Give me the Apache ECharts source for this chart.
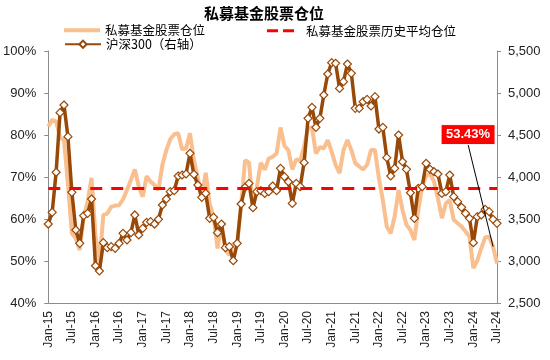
<!DOCTYPE html>
<html>
<head>
<meta charset="utf-8">
<script src="https://cdn.jsdelivr.net/npm/echarts@6/dist/echarts.min.js"></script>
<style>html,body{margin:0;padding:0;background:#fff}#c{width:550px;height:360px}</style>
</head>
<body>
<div id="c"></div>
<script>
// ---- data ----
var monthNames = ['Jan','Feb','Mar','Apr','May','Jun','Jul','Aug','Sep','Oct','Nov','Dec'];
var categories = [];
for (var y = 15; y <= 24; y++) {
  for (var m = 0; m < 12; m++) {
    if (y === 24 && m > 6) break;
    categories.push(monthNames[m] + '-' + y);
  }
}
var positionPct = [
  82.0,83.6,83.2,79.4,78.8,68.5,56.6,55.4,52.6,60.6,64.1,69.8,
  56.0,49.4,61.0,61.3,62.9,63.2,63.3,64.7,66.9,69.3,71.8,67.7,
  65.3,70.2,68.9,68.1,66.9,72.9,76.4,79.0,80.2,80.4,76.6,76.8,
  80.4,74.0,69.7,65.3,71.0,63.7,60.6,53.0,59.0,52.6,51.4,54.0,
  54.2,63.3,74.0,73.4,62.9,67.7,73.4,71.7,74.4,74.8,75.6,81.8,
  77.4,76.4,71.8,74.2,73.9,77.2,81.6,81.8,75.6,77.1,76.8,78.8,
  76.0,72.9,70.9,76.4,78.8,76.4,73.3,72.5,71.8,72.9,76.4,76.4,
  69.7,64.5,58.2,56.6,60.6,66.9,62.1,58.6,57.4,55.0,62.1,67.7,
  70.2,70.8,68.9,64.9,60.2,63.7,64.5,59.8,59.0,58.2,57.0,55.8,
  48.3,50.1,53.0,55.6,55.8,53.43,49.4
];
var csi300 = [
  3440,3579,4056,4766,4857,4480,3817,3369,3210,3540,3567,3738,
  2944,2881,3218,3159,3171,3151,3210,3329,3250,3337,3548,3310,
  3389,3460,3468,3440,3496,3667,3738,3825,3837,4012,4024,4036,
  4282,4032,3905,3758,3805,3508,3520,3337,3440,3159,3171,3004,
  3210,3679,3877,3924,3635,3825,3837,3805,3825,3893,3837,4103,
  4004,3944,3686,3924,3885,4171,4698,4829,4591,4698,4976,5226,
  5361,5353,5055,5135,5345,5234,4817,4817,4897,4924,4845,4956,
  4571,4591,4230,4012,4103,4500,4182,4091,3813,3508,3865,3885,
  4163,4091,4063,4036,3805,3825,4024,3766,3706,3639,3567,3508,
  3218,3528,3548,3615,3587,3496,3448
];
var historicalAvg = 67.4;
var annotationIndex = 113;
var annotationValue = 53.43;

var FONT = "'Liberation Sans', Arial, 'Noto Sans CJK SC', sans-serif";
var CJK = "'Noto Sans CJK SC', sans-serif";
var PEACH = '#F9BF8F';
var BROWN = '#984807';
var RED = '#FF0000';
var AXIS = '#8c8c8c';

var legendText = {fontSize: 12.5, color: '#000', fontFamily: CJK};

var chart = echarts.init(document.getElementById('c'), null, {renderer: 'canvas'});
var option = {
  backgroundColor: '#fff',
  animation: false,
  textStyle: {fontFamily: FONT},
  title: {
    text: '私募基金股票仓位',
    left: 199, top: 1,
    textStyle: {fontSize: 15, fontWeight: 'bold', color: '#000', fontFamily: CJK}
  },
  legend: [
    {
      data: [{name: '私募基金股票仓位', icon: 'rect', itemStyle: {color: PEACH}}],
      left: 64, top: 24, padding: 0, itemWidth: 36, itemHeight: 4,
      textStyle: legendText
    },
    {
      data: ['沪深300（右轴）'],
      left: 64, top: 38, padding: 0, itemWidth: 36, itemHeight: 9,
      textStyle: legendText
    },
    {
      data: [{name: '私募基金股票历史平均仓位', icon: 'path://M0,0h11v3h-11z M16,0h11v3h-11z', itemStyle: {color: RED}}],
      left: 267, top: 24.5, padding: 0, itemWidth: 27, itemHeight: 3,
      textStyle: Object.assign({}, legendText, {padding: [0, 0, 0, 7]})
    }
  ],
  grid: {left: 47, right: 53, top: 51, bottom: 57, containLabel: false},
  xAxis: {
    type: 'category', data: categories, boundaryGap: false,
    axisLine: {lineStyle: {color: AXIS, width: 1}},
    axisTick: {show: false},
    axisLabel: {interval: 5, rotate: 90, fontSize: 12, color: '#222', margin: 8, fontFamily: FONT},
    splitLine: {show: false}
  },
  yAxis: [
    {
      type: 'value', min: 40, max: 100, interval: 10, position: 'left',
      axisLine: {show: true, lineStyle: {color: AXIS}},
      axisTick: {show: true, length: 4, lineStyle: {color: AXIS}},
      axisLabel: {formatter: '{value}%', fontSize: 13, color: '#222', margin: 12, fontFamily: FONT},
      splitLine: {show: false}
    },
    {
      type: 'value', min: 2500, max: 5500, interval: 500, position: 'right',
      axisLine: {show: true, lineStyle: {color: AXIS}},
      axisTick: {show: true, length: 4, lineStyle: {color: AXIS}},
      axisLabel: {
        formatter: function (v) { return v.toLocaleString('en-US'); },
        fontSize: 13, color: '#222', margin: 11, fontFamily: FONT
      },
      splitLine: {show: false}
    }
  ],
  series: [
    {
      name: '私募基金股票仓位', type: 'line', yAxisIndex: 0, data: positionPct,
      showSymbol: false, symbol: 'none', z: 2,
      lineStyle: {color: PEACH, width: 4}, itemStyle: {color: PEACH}
    },
    {
      name: '私募基金股票历史平均仓位', type: 'line', yAxisIndex: 0, data: [],
      symbol: 'none', z: 3,
      lineStyle: {color: RED, width: 3, type: [12, 9]}, itemStyle: {color: RED},
      markLine: {
        silent: true, symbol: ['none', 'none'], label: {show: false},
        lineStyle: {color: RED, width: 3, type: [12, 9]},
        data: [{yAxis: historicalAvg}]
      }
    },
    {
      name: '沪深300（右轴）', type: 'line', yAxisIndex: 1, data: csi300,
      symbol: 'diamond', symbolSize: 8, showSymbol: true, showAllSymbol: true, z: 4,
      lineStyle: {color: BROWN, width: 3.5},
      itemStyle: {color: '#fff', borderColor: BROWN, borderWidth: 1.2}
    }
  ]
};
chart.setOption(option);

var p = chart.convertToPixel({xAxisIndex: 0, yAxisIndex: 0}, [annotationIndex, annotationValue]);
var boxW = 54, boxH = 20;
var bx = p[0] - 25, by = p[1] - 102;
chart.setOption({
  graphic: [
    {type: 'line', z: 100, shape: {x1: bx, y1: by, x2: p[0], y2: p[1]}, style: {stroke: '#000', lineWidth: 1}},
    {type: 'rect', z: 101, shape: {x: bx - boxW / 2, y: by - boxH, width: boxW, height: boxH},
      style: {fill: RED, stroke: '#fff', lineWidth: 1}},
    {type: 'text', z: 102, x: bx, y: by - boxH / 2,
      style: {text: annotationValue.toFixed(2) + '%', fill: '#fff', font: 'bold 13px ' + FONT,
        textAlign: 'center', textVerticalAlign: 'middle'}}
  ]
});
</script>
</body>
</html>
